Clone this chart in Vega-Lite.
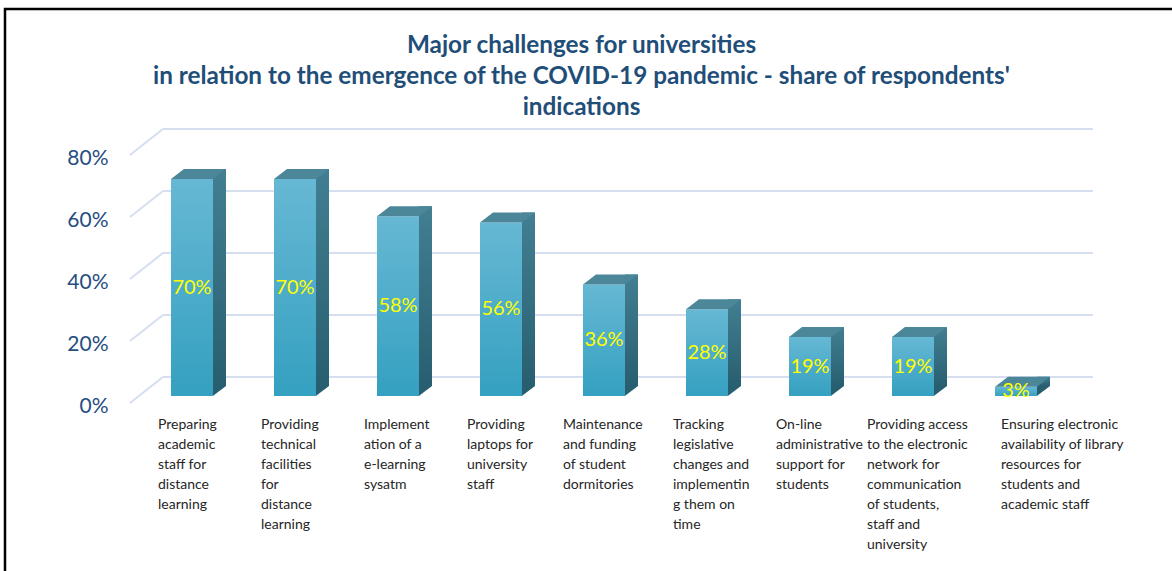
{
  "$schema": "https://vega.github.io/schema/vega-lite/v6.json",
  "width": 1172,
  "height": 566,
  "padding": {"left": 5, "top": 9, "right": 0, "bottom": 0},
  "autosize": {"type": "none"},
  "background": "#ffffff",
  "config": {
    "view": {"stroke": "#000000", "strokeWidth": 2.5},
    "font": "Lato",
    "axis": {"grid": false, "domain": false, "ticks": false}
  },
  "title": {
    "text": ["Major challenges for universities", "in relation to the emergence of the COVID-19 pandemic - share of respondents'", "indications"],
    "font": "Lato",
    "fontWeight": "bold",
    "fontSize": 24.3,
    "color": "#1f4e79",
    "lineHeight": 31,
    "anchor": "middle",
    "offset": -111,
    "dx": -9.5
  },
  "datasets": {
    "bars": [
      {"challenge": "Preparing\nacademic\nstaff for\ndistance\nlearning", "share": 0.70},
      {"challenge": "Providing\ntechnical\nfacilities\nfor\ndistance\nlearning", "share": 0.70},
      {"challenge": "Implement\nation of a\ne-learning\nsysatm", "share": 0.58},
      {"challenge": "Providing\nlaptops for\nuniversity\nstaff", "share": 0.56},
      {"challenge": "Maintenance\nand funding\nof student\ndormitories", "share": 0.36},
      {"challenge": "Tracking\nlegislative\nchanges and\nimplementin\ng them on\ntime", "share": 0.28},
      {"challenge": "On-line\nadministrative\nsupport for\nstudents", "share": 0.19},
      {"challenge": "Providing access\nto the electronic\nnetwork for\ncommunication\nof students,\nstaff and\nuniversity", "share": 0.19},
      {"challenge": "Ensuring electronic\navailability of library\nresources for\nstudents and\nacademic staff", "share": 0.03}
    ],
    "grid": [{"v": 0}, {"v": 0.2}, {"v": 0.4}, {"v": 0.6}, {"v": 0.8}]
  },
  "layer": [
    {
      "layer": [
        {
          "data": {"name": "grid"},
          "mark": {"type": "rule", "color": "#d6dff0", "strokeWidth": 2, "xOffset": 22.5, "x2Offset": 952.5, "yOffset": -19, "y2Offset": -19},
          "encoding": {
            "x": {"datum": "Preparing\nacademic\nstaff for\ndistance\nlearning", "type": "nominal", "bandPosition": 0},
            "x2": {"datum": "Preparing\nacademic\nstaff for\ndistance\nlearning", "bandPosition": 0},
            "y": {
              "field": "v", "type": "quantitative",
              "scale": {"domain": [0, 0.8], "range": [387, 139]},
              "title": null,
              "axis": {
                "orient": "left", "offset": -125, "values": [0, 0.2, 0.4, 0.6, 0.8], "format": ".0%",
                "labelFontSize": 21, "labelColor": "#264d80", "labelPadding": 22, "labelOffset": 10, "labelFont": "Lato"
              }
            }
          }
        },
        {
          "data": {"name": "grid"},
          "mark": {"type": "point", "shape": "M-1.65,1.3L1.65,-1.3", "size": 400, "filled": false, "stroke": "#d6dff0", "strokeWidth": 2, "opacity": 1, "xOffset": -45.5, "yOffset": -6},
          "encoding": {
            "x": {"datum": "Preparing\nacademic\nstaff for\ndistance\nlearning", "type": "nominal"},
            "y": {"field": "v", "type": "quantitative", "title": null}
          }
        },
        {
          "data": {"name": "bars"},
          "mark": {
            "type": "bar", "width": 13, "xOffset": 27.5, "yOffset": -10, "y2Offset": -10,
            "color": {"gradient": "linear", "x1": 0, "y1": 0, "x2": 0, "y2": 1, "stops": [{"offset": 0, "color": "#427f92"}, {"offset": 1, "color": "#285f70"}]}
          },
          "encoding": {
            "x": {
              "field": "challenge", "type": "nominal", "sort": null, "title": null,
              "scale": {"range": [135.5, 1062.5], "paddingInner": 0, "paddingOuter": 0},
              "axis": {
                "orient": "bottom", "offset": -170, "labelAngle": 0, "labelAlign": "left", "labelBaseline": "top",
                "labelOffset": {
                  "condition": [
                    {"test": "indexof(datum.value, 'Ensuring') == 0", "value": -15},
                    {"test": "indexof(datum.value, 'Providing access') == 0", "value": -46},
                    {"test": "indexof(datum.value, 'Maintenance') == 0", "value": -41}
                  ],
                  "value": -34
                },
                "labelPadding": 12, "labelFontSize": 14, "labelFont": "Lato", "labelColor": "#262626",
                "labelLineHeight": 20, "labelExpr": "split(datum.label, '\\n')", "labelLimit": 0, "labelOverlap": false
              }
            },
            "y": {"field": "share", "type": "quantitative", "title": null}
          }
        },
        {
          "data": {"name": "bars"},
          "mark": {"type": "point", "shape": "M2.08,-1L2.08,0L3.4,-1Z", "size": 400, "filled": true, "color": "#285f70", "opacity": 1, "strokeWidth": 0},
          "encoding": {
            "x": {"field": "challenge", "type": "nominal", "sort": null},
            "y": {"datum": 0, "type": "quantitative"}
          }
        },
        {
          "data": {"name": "bars"},
          "mark": {
            "type": "bar", "width": 42,
            "color": {"gradient": "linear", "x1": 0, "y1": 0, "x2": 0, "y2": 1, "stops": [{"offset": 0, "color": "#66b8d4"}, {"offset": 1, "color": "#35a0c0"}]}
          },
          "encoding": {
            "x": {"field": "challenge", "type": "nominal", "sort": null},
            "y": {"field": "share", "type": "quantitative", "title": null}
          }
        },
        {
          "data": {"name": "bars"},
          "mark": {"type": "point", "shape": "M-2.1,0L-0.8,-1L3.4,-1L2.1,0Z", "size": 400, "filled": true, "color": "#4b8799", "opacity": 1, "strokeWidth": 0},
          "encoding": {
            "x": {"field": "challenge", "type": "nominal", "sort": null},
            "y": {"field": "share", "type": "quantitative", "title": null}
          }
        }
      ]
    },
    {
      "data": {"name": "bars"},
      "mark": {"type": "text", "color": "#ffff00", "fontSize": 20, "font": "Lato"},
      "encoding": {
        "x": {"field": "challenge", "type": "nominal", "sort": null},
        "y": {"field": "share", "type": "quantitative", "scale": {"domain": [0, 1.6], "range": [387, 139]}, "axis": null},
        "text": {"field": "share", "type": "quantitative", "format": ".0%"}
      }
    }
  ],
  "resolve": {"scale": {"y": "independent"}}
}
